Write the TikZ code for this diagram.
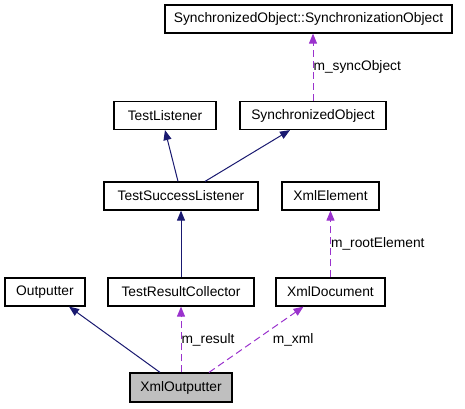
\documentclass[tikz,border=0pt]{standalone}
\usepackage{fontspec}
\setmainfont{Liberation Sans}
\usepackage{tikz}
\usetikzlibrary{arrows.meta}
\definecolor{inhblue}{HTML}{191970}
\definecolor{usepurple}{HTML}{9A32CD}
\definecolor{curgray}{HTML}{BFBFBF}

\begin{document}
\begin{tikzpicture}[x=1pt,y=-1pt,
  cls/.style={draw=black,line width=1.2pt,inner sep=0pt,minimum height=28pt,font=\fontsize{13.8}{16}\selectfont},
  inherit/.style={draw=inhblue,line width=1pt,-{Triangle[length=10pt,width=8pt]}},
  uses/.style={draw=usepurple,line width=1pt,dash pattern=on 7pt off 4pt,-{Triangle[length=10pt,width=8pt]}},
  lbl/.style={font=\fontsize{13.8}{16}\selectfont,inner sep=0pt,anchor=west}]
  \useasboundingbox (0,0) rectangle (465,408);
  % classes
  \node[cls,minimum width=287pt] (sync) at (308.5,19) {SynchronizedObject::SynchronizationObject};
  \node[cls,minimum width=102pt] (tlis) at (165,115.5) {TestListener};
  \node[cls,minimum width=146pt] (sobj) at (313,115.5) {SynchronizedObject};
  \node[cls,minimum width=154pt] (tsl) at (181,196) {TestSuccessListener};
  \node[cls,minimum width=97pt] (xele) at (330.5,196) {XmlElement};
  \node[cls,minimum width=80pt] (outp) at (45,292) {Outputter};
  \node[cls,minimum width=146pt] (trc) at (181,292) {TestResultCollector};
  \node[cls,minimum width=109pt] (xdoc) at (330.5,292) {XmlDocument};
  \node[cls,fill=curgray,minimum width=102pt,minimum height=29pt] (xout) at (181,387.5) {XmlOutputter};
  % inheritance
  \draw[inherit] ([xshift=-3pt]tsl.north) -- (tlis.south);
  \draw[inherit] ([xshift=24pt]tsl.north) -- ([xshift=-23pt]sobj.south);
  \draw[inherit] (trc.north) -- (tsl.south);
  \draw[inherit] ([xshift=-21pt]xout.north) -- ([xshift=24pt]outp.south);
  % usage
  \draw[uses] (sobj.north) -- node[lbl]{m\_syncObject} (sobj.north |- sync.south);
  \draw[uses] (xdoc.north) -- node[lbl]{m\_rootElement} (xdoc.north |- xele.south);
  \draw[uses] (xout.north) -- node[lbl]{m\_result} (trc.south);
  \draw[uses] ([xshift=28pt]xout.north) -- node[lbl,xshift=16pt]{m\_xml} ([xshift=-27pt]xdoc.south);
\end{tikzpicture}
\end{document}
